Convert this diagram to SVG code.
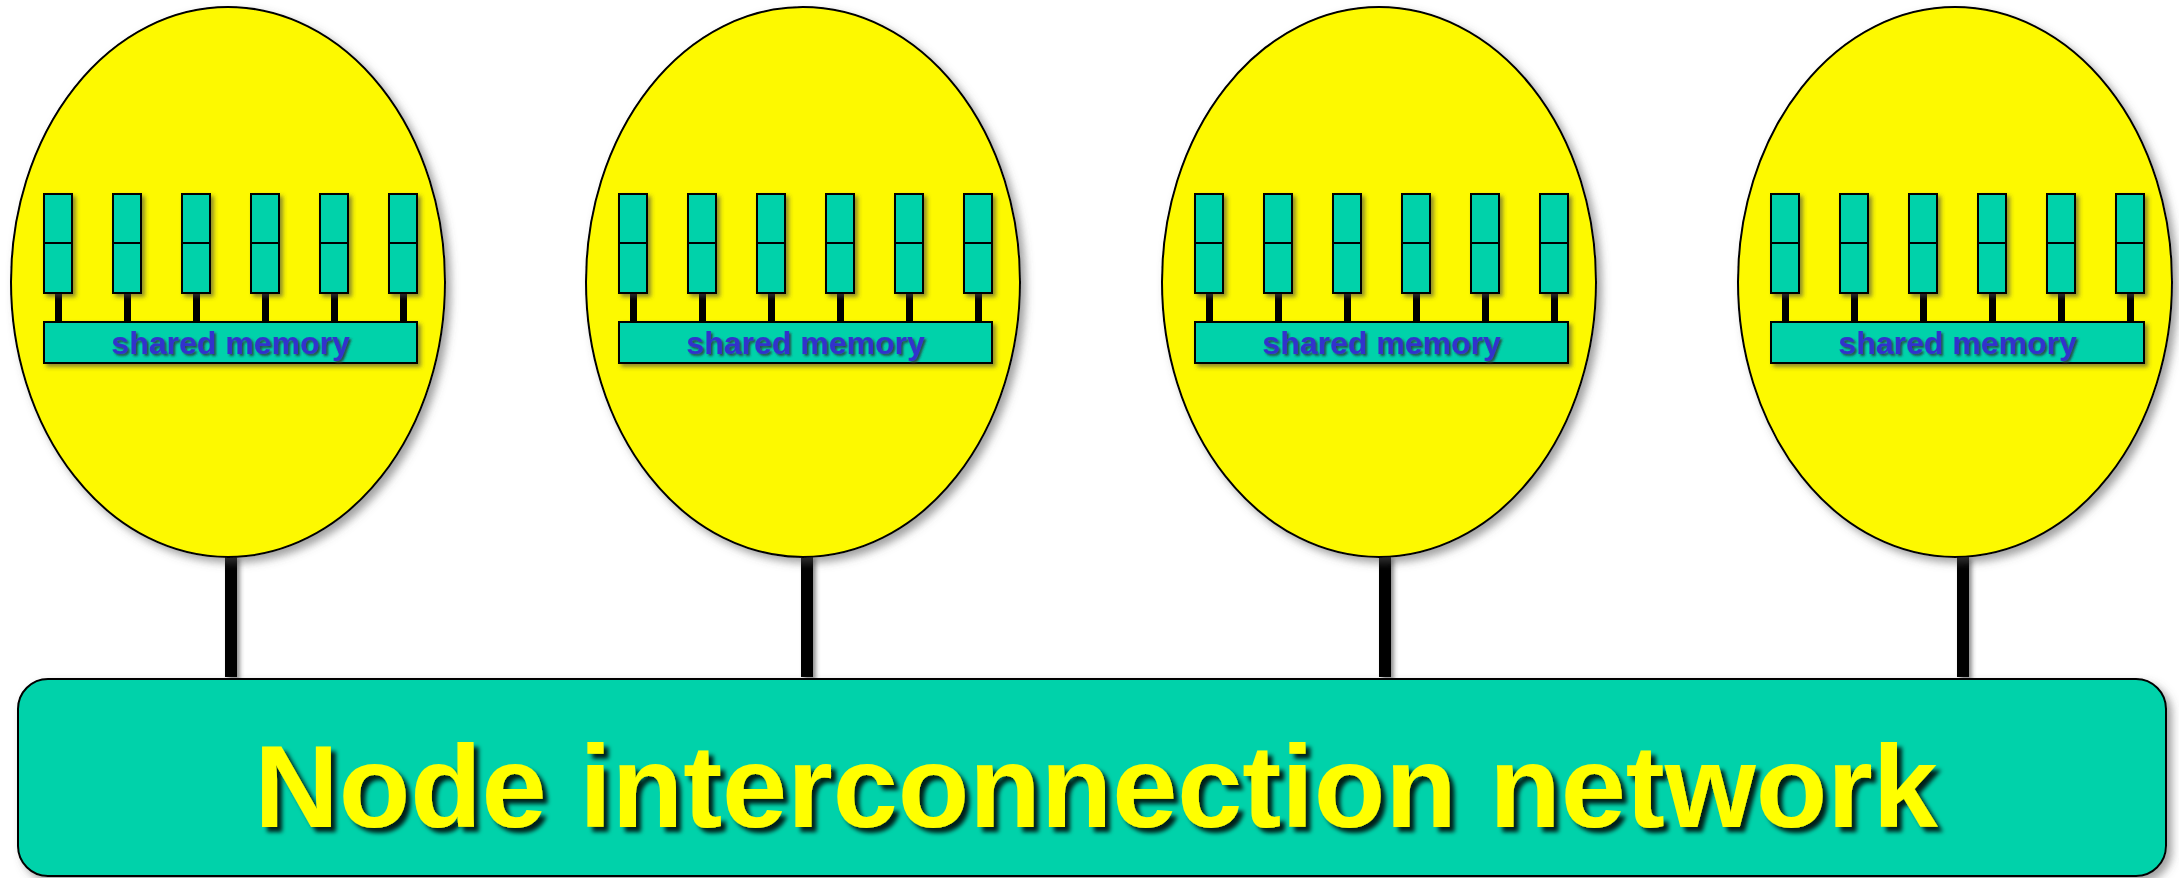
<svg xmlns="http://www.w3.org/2000/svg" xmlns:xlink="http://www.w3.org/1999/xlink" width="2179" height="878" viewBox="0 0 2179 878">
  <defs>
    <filter id="shadow" x="-20%" y="-20%" width="150%" height="150%">
      <feDropShadow dx="5" dy="5" stdDeviation="4" flood-color="#555555" flood-opacity="0.55"/>
    </filter>
    <filter id="shadowSm" x="-20%" y="-20%" width="160%" height="160%">
      <feDropShadow dx="3" dy="3" stdDeviation="2" flood-color="#444444" flood-opacity="0.6"/>
    </filter>
    <filter id="txtShadow" x="-5%" y="-20%" width="110%" height="150%">
      <feDropShadow dx="2" dy="2" stdDeviation="1" flood-color="#333333" flood-opacity="0.8"/>
    </filter>
    <filter id="bigShadow" x="-5%" y="-20%" width="110%" height="150%">
      <feDropShadow dx="5" dy="5" stdDeviation="2" flood-color="#000000" flood-opacity="0.85"/>
    </filter>
    <g id="nodeContent">
      <ellipse cx="0" cy="282" rx="217" ry="275" class="node-ellipse" filter="url(#shadow)"/>
      <g class="stems">
        <rect x="-173" y="293" width="7" height="30"/>
        <rect x="-104" y="293" width="7" height="30"/>
        <rect x="-35" y="293" width="7" height="30"/>
        <rect x="34" y="293" width="7" height="30"/>
        <rect x="103" y="293" width="7" height="30"/>
        <rect x="172" y="293" width="7" height="30"/>
      </g>
      <g class="proc" filter="url(#shadowSm)">
        <rect x="-184" y="194" width="28" height="99"/>
        <rect x="-115" y="194" width="28" height="99"/>
        <rect x="-46" y="194" width="28" height="99"/>
        <rect x="23" y="194" width="28" height="99"/>
        <rect x="92" y="194" width="28" height="99"/>
        <rect x="161" y="194" width="28" height="99"/>
      </g>
      <g class="div">
        <line x1="-184" y1="243" x2="-156" y2="243"/>
        <line x1="-115" y1="243" x2="-87" y2="243"/>
        <line x1="-46" y1="243" x2="-18" y2="243"/>
        <line x1="23" y1="243" x2="51" y2="243"/>
        <line x1="92" y1="243" x2="120" y2="243"/>
        <line x1="161" y1="243" x2="189" y2="243"/>
      </g>
      <rect x="-184" y="322" width="373" height="41" class="mem" filter="url(#shadowSm)"/>
      <text x="2.5" y="354" class="memtext" filter="url(#txtShadow)">shared memory</text>
    </g>
  </defs>
  <style>
    .node-ellipse { fill: #FDF900; stroke: #000000; stroke-width: 2; }
    .proc rect { fill: #00D2AA; stroke: #000000; stroke-width: 2; }
    .div line { stroke: #000000; stroke-width: 2; }
    .stems rect { fill: #000000; }
    .mem { fill: #00D2AA; stroke: #000000; stroke-width: 2; }
    .memtext { font-family: "Liberation Sans", Arial, sans-serif; font-weight: bold; font-size: 32px; fill: #3333CC; text-anchor: middle; }
    .link { fill: #000000; }
    .net { fill: #00D2AA; stroke: #000000; stroke-width: 2; }
    .nettext { font-family: "Liberation Sans", Arial, sans-serif; font-weight: bold; font-size: 117px; fill: #FFFF00; text-anchor: middle; }
  </style>
  <rect x="0" y="0" width="2179" height="878" fill="#FFFFFF"/>

  <g id="connectors" filter="url(#shadowSm)">
    <rect class="link" x="225" y="555" width="12" height="122"/>
    <rect class="link" x="801" y="555" width="12" height="122"/>
    <rect class="link" x="1379" y="555" width="12" height="122"/>
    <rect class="link" x="1957" y="555" width="12" height="122"/>
  </g>

  <g id="node1" transform="translate(228,0)"><use xlink:href="#nodeContent" href="#nodeContent"/></g>
  <g id="node2" transform="translate(803,0)"><use xlink:href="#nodeContent" href="#nodeContent"/></g>
  <g id="node3" transform="translate(1379,0)"><use xlink:href="#nodeContent" href="#nodeContent"/></g>
  <g id="node4" transform="translate(1955,0)"><use xlink:href="#nodeContent" href="#nodeContent"/></g>

  <g id="network">
    <rect class="net" x="18" y="679" width="2148" height="197" rx="30" ry="30" filter="url(#shadow)"/>
    <text class="nettext" x="1096" y="827" filter="url(#bigShadow)">Node interconnection network</text>
  </g>
</svg>
